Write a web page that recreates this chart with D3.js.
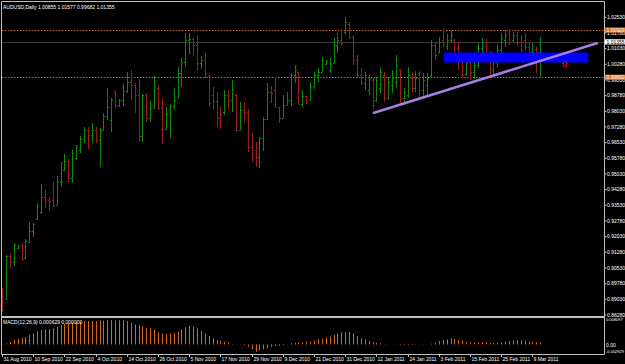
<!DOCTYPE html>
<html>
<head>
<meta charset="utf-8">
<script src="https://cdn.jsdelivr.net/npm/d3@7"></script>
<style>
  html, body { margin: 0; background: #000; }
  svg { display: block; }
  text { font-family: "Liberation Sans", Arial, sans-serif; font-size: 5px; fill: #fff; }
</style>
</head>
<body>
<div id="main-chart"></div>
<script>
const width = 625, height = 364;

// AUDUSD daily bars, 31 Aug 2010 .. 11 Mar 2011
const opens = [0.89476,0.89045,0.91103,0.90816,0.91486,0.91630,0.91008,0.91773,0.92300,0.92875,
  0.93210,0.93928,0.93784,0.93784,0.93545,0.94646,0.95220,0.95651,0.94837,0.95795,
  0.96178,0.96704,0.97135,0.96896,0.97135,0.96656,0.97135,0.97805,0.97614,0.98954,
  0.98332,0.98571,0.99002,0.99433,0.99289,0.98810,0.96848,0.98810,0.97709,0.98188,
  0.99145,0.98188,0.97183,0.97901,0.98284,0.98667,0.99864,1.00390,1.01443,1.01491,
  1.01204,1.00342,1.00486,0.99720,0.98810,0.98523,0.97709,0.97997,0.98810,0.98571,
  0.98810,0.97135,0.98092,0.97997,0.96321,0.96178,0.95842,0.96752,0.97662,0.98954,
  0.99050,0.98236,0.97709,0.98332,0.98571,0.99768,0.99911,0.98380,0.98763,0.98571,
  0.99241,0.99768,0.99911,1.00294,1.00007,1.00342,1.01204,1.01443,1.01826,1.02209,
  1.01587,1.00486,0.99768,0.99385,0.99050,0.99528,0.98571,0.99145,0.99768,0.98667,
  0.99289,0.99433,1.00007,0.98667,0.98810,0.99624,0.99145,0.99624,0.99050,0.99289,
  0.99720,1.01204,1.00869,1.01443,1.01156,1.01443,1.01443,1.01060,1.00199,0.99816,
  1.00390,0.99911,1.00246,1.01060,1.01348,1.00677,1.00007,1.00390,1.00965,1.01443,
  1.01778,1.01443,1.01683,1.01348,1.01443,1.01108,1.00869,1.01012,1.00855];
const highs = [0.89571,0.91151,0.91199,0.91726,0.91630,0.91726,0.91917,0.92731,0.92683,0.93640,
  0.94550,0.94263,0.93928,0.94646,0.94933,0.95603,0.95986,0.95747,0.96178,0.96417,
  0.96848,0.97279,0.97279,0.97470,0.97279,0.97231,0.97949,0.99145,0.98667,0.99050,
  0.98619,0.99337,0.99911,1.00007,0.99385,0.99576,0.98858,0.98906,0.98523,0.99720,
  0.99241,0.98667,0.98236,0.98380,0.99145,1.00151,1.00582,1.01778,1.01778,1.01587,
  1.01683,1.00677,1.00821,0.99768,0.99193,0.98954,0.98284,0.99050,0.99050,0.99528,
  0.98858,0.98475,0.98475,0.98140,0.96991,0.96561,0.96800,0.97757,0.99385,0.99241,
  0.99672,0.98236,0.98810,0.98954,0.99864,1.00246,0.99911,0.99050,0.98763,0.99433,
  0.99911,1.00103,1.00630,1.00486,1.00582,1.01539,1.01778,1.01970,1.02544,1.02305,
  1.01683,1.00725,1.00103,0.99911,0.99768,0.99624,0.99672,1.00151,0.99911,0.99672,
  1.00007,1.00725,1.00055,0.99145,1.00151,0.99911,0.99959,0.99959,0.99864,0.99864,
  1.01443,1.01300,1.01587,1.01970,1.01731,1.01922,1.01491,1.01348,1.00390,1.00725,
  1.00582,1.00534,1.01300,1.01539,1.01491,1.00917,1.00582,1.01204,1.01778,1.01922,
  1.01970,1.01826,1.01826,1.01683,1.01778,1.01300,1.01300,1.01108,1.01577];
const lows = [0.88423,0.88997,0.90529,0.90625,0.91438,0.90864,0.90960,0.91726,0.92013,0.92827,
  0.93114,0.93401,0.93257,0.93449,0.93545,0.94406,0.95172,0.94646,0.94598,0.95699,
  0.96034,0.96513,0.96225,0.96513,0.96513,0.95364,0.97135,0.97614,0.97039,0.98188,
  0.98236,0.98284,0.98906,0.98571,0.97949,0.96561,0.96561,0.97518,0.97518,0.98188,
  0.98092,0.96465,0.97135,0.96752,0.98092,0.98667,0.99193,1.00151,1.00773,1.00725,
  0.99959,1.00055,0.99624,0.98236,0.98092,0.97231,0.97183,0.97853,0.98092,0.97997,
  0.97039,0.97135,0.97518,0.96082,0.95603,0.95364,0.95316,0.96130,0.97614,0.98427,
  0.98236,0.97470,0.97709,0.98332,0.98284,0.99385,0.98380,0.98236,0.98380,0.98571,
  0.99098,0.99433,0.99864,1.00246,0.99864,1.00342,1.00821,1.01156,1.01731,1.01491,
  1.00246,0.99624,0.99289,0.99050,0.98810,0.98140,0.98475,0.98906,0.98475,0.98571,
  0.98906,0.99145,0.98427,0.98427,0.98667,0.98906,0.98954,0.98667,0.98715,0.98810,
  0.99624,1.00486,1.00821,1.01108,1.00965,1.01300,1.00821,1.00007,0.99624,0.99720,
  0.99528,0.99576,1.00103,1.00821,1.00390,0.99768,0.99816,1.00151,1.00821,1.01108,
  1.01204,1.01348,1.01156,1.00725,1.00917,1.00534,1.00821,0.99864,0.99682];
const closes = [0.88518,0.91103,0.90816,0.91630,0.91582,0.90960,0.91821,0.92300,0.92635,0.93497,
  0.93928,0.93784,0.93736,0.93545,0.94646,0.94694,0.95651,0.94837,0.96034,0.96321,
  0.96704,0.97135,0.96896,0.97135,0.96656,0.97135,0.97805,0.98236,0.98571,0.98332,
  0.98571,0.99002,0.99433,0.99289,0.98810,0.96848,0.98810,0.97709,0.98188,0.99241,
  0.98188,0.97183,0.97901,0.98284,0.98571,0.99864,1.00390,1.01443,1.01491,1.01204,
  1.00342,1.00486,0.99864,0.98427,0.98523,0.97709,0.97614,0.98810,0.98571,0.98858,
  0.97135,0.98092,0.97997,0.96321,0.96178,0.95842,0.96752,0.97662,0.98954,0.98906,
  0.98236,0.97709,0.98332,0.98571,0.99768,1.00007,0.98380,0.98763,0.98475,0.99241,
  0.99768,0.99911,1.00486,1.00438,1.00294,1.01204,1.01443,1.01300,1.02305,1.01587,
  1.00486,0.99768,0.99385,0.99768,0.99624,0.98332,0.99528,0.99911,0.98667,0.99433,
  0.99624,1.00486,0.98667,0.98954,0.99768,0.99145,0.99624,0.99050,0.99528,0.99624,
  1.01204,1.00725,1.01348,1.01252,1.01443,1.01683,1.00965,1.00246,0.99768,1.00390,
  0.99911,1.00246,1.01060,1.01348,1.00677,1.00103,1.00390,1.00965,1.01539,1.01683,
  1.01348,1.01683,1.01348,1.00965,1.01108,1.00725,1.01156,1.00860,1.01355];

// MACD(12,26,9) histogram
const macd = [0.00010,0.00033,0.00084,0.00135,0.00165,0.00196,0.00227,0.00288,0.00339,0.00390,
  0.00441,0.00461,0.00472,0.00492,0.00543,0.00594,0.00625,0.00645,0.00666,0.00686,
  0.00696,0.00717,0.00717,0.00717,0.00717,0.00727,0.00727,0.00747,0.00747,0.00727,
  0.00747,0.00747,0.00717,0.00666,0.00615,0.00594,0.00564,0.00513,0.00492,0.00441,
  0.00370,0.00339,0.00319,0.00339,0.00359,0.00390,0.00461,0.00523,0.00564,0.00543,
  0.00492,0.00410,0.00339,0.00257,0.00186,0.00135,0.00114,0.00084,0.00063,0.00012,
  -0.00005,-0.00010,-0.00020,-0.00069,-0.00151,-0.00223,-0.00192,-0.00151,-0.00120,-0.00069,
  -0.00049,-0.00039,-0.00018,-0.00005,0.00033,0.00053,0.00063,0.00063,0.00084,0.00084,
  0.00114,0.00155,0.00176,0.00216,0.00237,0.00288,0.00339,0.00370,0.00390,0.00390,
  0.00339,0.00257,0.00186,0.00155,0.00104,0.00063,0.00053,0.00033,0.00010,0.00005,
  -0.00003,-0.00008,-0.00012,-0.00018,-0.00018,-0.00018,-0.00010,-0.00008,-0.00008,0.00003,
  0.00022,0.00053,0.00104,0.00135,0.00155,0.00186,0.00165,0.00135,0.00114,0.00084,
  0.00053,0.00053,0.00063,0.00074,0.00074,0.00053,0.00043,0.00053,0.00074,0.00094,
  0.00114,0.00125,0.00125,0.00125,0.00114,0.00094,0.00074,0.00070,0.00063];

// one label every 8 bars
const dateLabels = ["31 Aug 2010","10 Sep 2010","22 Sep 2010","4 Oct 2010","14 Oct 2010","26 Oct 2010",
  "5 Nov 2010","17 Nov 2010","29 Nov 2010","9 Dec 2010","21 Dec 2010","31 Dec 2010",
  "12 Jan 2011","24 Jan 2011","3 Feb 2011","15 Feb 2011","25 Feb 2011","9 Mar 2011"];
const priceTicks = [1.02530,1.01780,1.01030,1.00280,0.99530,0.98780,0.98030,0.97280,0.96530,0.95780,
  0.95030,0.94280,0.93530,0.92780,0.92030,0.91280,0.90530,0.89780,0.89030,0.88280];
const levels = [1.01920, 0.99660];
const bid = 1.01355;
const title = "AUDUSD,Daily  1.00855 1.01577 0.99682 1.01355";
const macdTitle = "MACD(12,26,9) 0.000629 0.000000";
const macdTicks = [0.008097, 0.00, -0.002929];

// drawn objects: trendline, zone rectangle, arrow
const trendBars = [95.4, 152.5], trendPrices = [0.97960, 1.01285];
const zoneBars = [113.3, 150.3], zonePrices = [1.00845, 1.00366];
const arrowBar = 144.4, arrowPrice = 1.00440;

const svg = d3.select("#main-chart").append("svg")
  .attr("width", width).attr("height", height);

svg.append("rect").attr("width", width).attr("height", height).attr("fill", "#000");

const x = d3.scaleLinear().domain([0, 139]).range([2, 2 + 139 * 3.9]);
const y = d3.scaleLinear().domain([0.88280, 1.02530]).range([315, 17.3]);
const ym = d3.scaleLinear().domain([-0.002929, 0.008097]).range([354, 318]);
const px = i => Math.round(x(i)) + 0.5;

svg.append("clipPath").attr("id", "clip-main")
  .append("rect").attr("x", 2).attr("y", 2).attr("width", 602).attr("height", 314);
svg.append("clipPath").attr("id", "clip-macd")
  .append("rect").attr("x", 2).attr("y", 318).attr("width", 602).attr("height", 36);

const main = svg.append("g").attr("clip-path", "url(#clip-main)");

// horizontal levels
main.append("line")
  .attr("x1", 2).attr("x2", 604)
  .attr("y1", Math.round(y(bid)) + 0.5).attr("y2", Math.round(y(bid)) + 0.5)
  .attr("stroke", "#383838");
main.selectAll("line.level").data(levels).enter().append("line")
  .attr("class", "level")
  .attr("x1", 2).attr("x2", 604)
  .attr("y1", d => Math.round(y(d)) + 0.5).attr("y2", d => Math.round(y(d)) + 0.5)
  .attr("stroke", "#c0642a").attr("stroke-dasharray", "1.5,1.5");

// bars
const bars = main.selectAll("g.bar").data(d3.range(opens.length)).enter().append("g")
  .attr("class", "bar")
  .attr("stroke", i => closes[i] >= opens[i] ? "#0d8a0d" : "#9a1e1e")
  .attr("stroke-width", 1);
bars.append("line")
  .attr("x1", px).attr("x2", px)
  .attr("y1", i => y(highs[i])).attr("y2", i => y(lows[i]));
bars.append("line")
  .attr("x1", i => px(i) - 1.5).attr("x2", px)
  .attr("y1", i => Math.round(y(opens[i])) + 0.5).attr("y2", i => Math.round(y(opens[i])) + 0.5);
bars.append("line")
  .attr("x1", px).attr("x2", i => px(i) + 1.5)
  .attr("y1", i => Math.round(y(closes[i])) + 0.5).attr("y2", i => Math.round(y(closes[i])) + 0.5);

// zone rectangle
main.append("rect")
  .attr("x", x(zoneBars[0])).attr("width", x(zoneBars[1]) - x(zoneBars[0]))
  .attr("y", y(zonePrices[0])).attr("height", y(zonePrices[1]) - y(zonePrices[0]))
  .attr("fill", "#0000ff");

// trendline
main.append("line")
  .attr("x1", x(trendBars[0])).attr("y1", y(trendPrices[0]))
  .attr("x2", x(trendBars[1])).attr("y2", y(trendPrices[1]))
  .attr("stroke", "#a87ee0").attr("stroke-width", 2.6).attr("stroke-linecap", "round");

// up arrow
const ax = x(arrowBar), ay = y(arrowPrice);
main.append("path")
  .attr("d", `M${ax},${ay} l2.5,2.5 h-1.3 v3 h-2.4 v-3 h-1.3 z`)
  .attr("fill", "none").attr("stroke", "#ff1010").attr("stroke-width", 0.9);

// MACD histogram
const mg = svg.append("g").attr("clip-path", "url(#clip-macd)");
mg.selectAll("line").data(d3.range(macd.length)).enter().append("line")
  .attr("x1", px).attr("x2", px)
  .attr("y1", ym(0)).attr("y2", i => ym(macd[i]))
  .attr("stroke", "#d2681e").attr("stroke-width", 1);

// frame
const frame = "#c0c0c0";
svg.append("path")
  .attr("d", "M1.5,354.5 V1.5 H604.5 V354.5 H1.5 M1.5,316.5 H604.5 M1.5,317.5 H604.5")
  .attr("fill", "none").attr("stroke", frame).attr("stroke-width", 1);

// price axis
const yAxis = svg.append("g");
priceTicks.forEach(p => {
  const yy = y(p);
  yAxis.append("line").attr("x1", 604).attr("x2", 606.5).attr("y1", yy).attr("y2", yy).attr("stroke", frame);
  yAxis.append("text").attr("x", 607).attr("y", yy + 1.8).text(p.toFixed(5));
});

// level labels (they cover the tick label underneath, as in the terminal)
levels.forEach(p => {
  const yy = y(p);
  yAxis.append("rect").attr("x", 605).attr("y", yy - 2.6).attr("width", 20).attr("height", 5.2).attr("fill", "#e07628");
  yAxis.append("text").attr("x", 606.5).attr("y", yy + 1.8).style("fill", "#fff").text(p.toFixed(5));
});
yAxis.append("rect").attr("x", 605).attr("y", y(bid) - 2.6).attr("width", 20).attr("height", 5.2).attr("fill", "#fff");
yAxis.append("text").attr("x", 606.5).attr("y", y(bid) + 1.8).style("fill", "#000").text(bid.toFixed(5));

// MACD axis
const macdLabelY = [ym(macdTicks[0]) + 3.3, ym(macdTicks[1]) + 2.7, ym(macdTicks[2]) - 1.4];
macdTicks.forEach((v, k) => {
  svg.append("text").attr("x", 606).attr("y", macdLabelY[k])
    .style("font-size", v === 0 ? "5px" : "4px")
    .text(v === 0 ? "0.00" : v.toFixed(6));
});

// date axis
dateLabels.forEach((d, k) => {
  const xx = px(k * 8);
  svg.append("line").attr("x1", xx).attr("x2", xx).attr("y1", 354).attr("y2", 357).attr("stroke", frame);
  svg.append("text").attr("x", xx + 1).attr("y", 361).text(d);
});

// titles
svg.append("text").attr("x", 3).attr("y", 8.5).text(title);
svg.append("text").attr("x", 3).attr("y", 324).text(macdTitle);
</script>
</body>
</html>
